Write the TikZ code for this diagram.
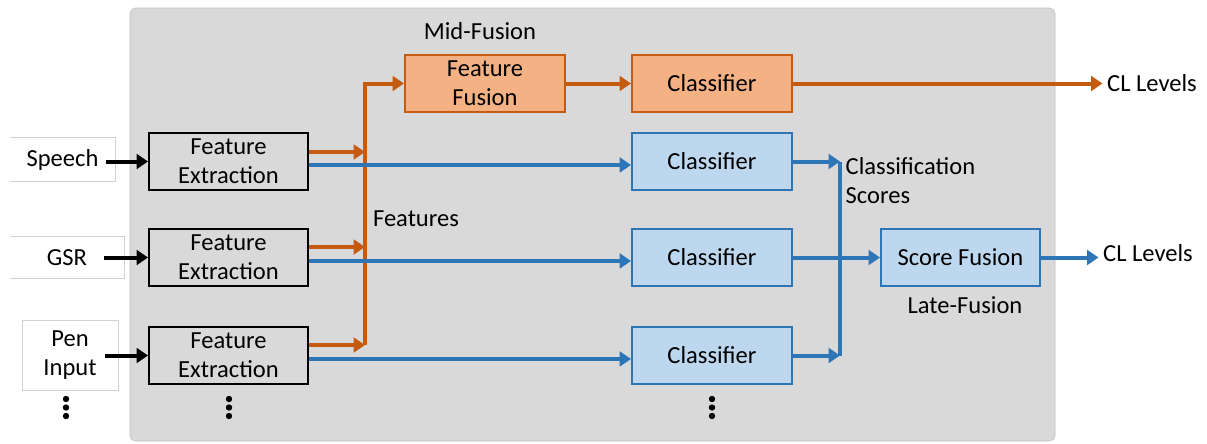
\documentclass[tikz,border=0pt]{standalone}
\usepackage{fontspec}
\setmainfont{Carlito}
\usetikzlibrary{arrows.meta}

\definecolor{fusionorange}{HTML}{C55A11}
\definecolor{fusionfill}{HTML}{F4B183}
\definecolor{scoreblue}{HTML}{2E75B6}
\definecolor{scorefill}{HTML}{BDD7EE}
\definecolor{panelgray}{HTML}{D9D9D9}

\tikzstyle{inbox} = [fill=white, align=center, inner sep=0pt]
\tikzstyle{inedge} = [draw=black!18, line width=0.75pt]
\tikzstyle{febox} = [draw=black, line width=1.5pt, minimum width=119.25pt, minimum height=42.75pt, align=center, inner sep=0pt]
\tikzstyle{midbox} = [febox, draw=fusionorange, fill=fusionfill, minimum width=120pt]
\tikzstyle{latebox} = [febox, draw=scoreblue, fill=scorefill, minimum width=120pt]
\tikzstyle{arr} = [line width=3pt, -{Triangle[length=8.5pt,width=11pt]}]
\tikzstyle{plain} = [line width=3pt]
\tikzstyle{dot} = [fill=black]

\begin{document}
\begin{tikzpicture}[x=0.75pt, y=-0.75pt, font=\fontsize{18.4}{21.8}\selectfont]
\useasboundingbox (0,0) rectangle (1207,443);
%panel
\draw[draw=black!25, fill=panelgray, rounded corners=4pt] (130,8) rectangle (1055,441);
%begin inputs
\node[inbox, minimum width=78.75pt, minimum height=32.25pt] (speech) at (62.5,159.5) {Speech};
\node[inbox, minimum width=85.5pt, minimum height=30.75pt] (gsr) at (67,257.5) {GSR};
\node[inbox, minimum width=72pt, minimum height=52.5pt, draw=black!18, line width=0.75pt] (pen) at (70,355) {Pen\\Input};
\draw[inedge] (speech.north west) -- (speech.north east) -- (speech.south east) -- (speech.south west);
\draw[inedge] (gsr.north west) -- (gsr.north east) -- (gsr.south east) -- (gsr.south west);
%end inputs
%begin feature extraction
\node[febox] (fe1) at (228.5,161.5) {Feature\\Extraction};
\node[febox] (fe2) at (228.5,257.5) {Feature\\Extraction};
\node[febox] (fe3) at (228.5,355.5) {Feature\\Extraction};
%end feature extraction
%begin mid-fusion
\node[midbox] (ff) at (485,83.5) {Feature\\Fusion};
\node[midbox] (oc) at (712,83.5) {Classifier};
\node (mid) at (480,31) {Mid-Fusion};
\node (cl1) at (1152,83.5) {CL Levels};
%end mid-fusion
%begin late-fusion
\node[latebox] (c1) at (712,161.5) {Classifier};
\node[latebox] (c2) at (712,257.5) {Classifier};
\node[latebox] (c3) at (712,355.5) {Classifier};
\node[latebox, minimum width=119.25pt] (sf) at (960.5,257.5) {Score Fusion};
\node (late) at (965,305) {Late-Fusion};
\node (cl2) at (1148,253) {CL Levels};
\node[anchor=west, align=left] (scores) at (841,181) {Classification\\Scores};
%end late-fusion
\node (feat) at (416,219) {Features};
%joints
\coordinate (o1) at (365,152);
\coordinate (o2) at (365,247);
\coordinate (o3) at (365,345);
\coordinate (otop) at (365,83.5);
\coordinate (s1) at (840,161.5);
\coordinate (s3) at (840,355.5);
%begin input arrows
\draw[arr] ([xshift=-6.75pt]speech.east |- fe1.west) -- (fe1.west);
\draw[arr] ([xshift=-15pt]gsr.east |- fe2.west) -- (fe2.west);
\draw[arr] ([xshift=-10.5pt]pen.east |- fe3.west) -- (fe3.west);
%end input arrows
%begin orange
\draw[arr, fusionorange] (fe1.east |- o1) -- (o1);
\draw[arr, fusionorange] (fe2.east |- o2) -- (o2);
\draw[arr, fusionorange] (fe3.east |- o3) -- (o3);
\draw[arr, fusionorange] (o3) -- (otop) -- (ff.west);
\draw[arr, fusionorange] (ff.east) -- (oc.west);
\draw[arr, fusionorange] (oc.east) -- (cl1.west);
%end orange
%begin blue
\draw[arr, scoreblue] ([yshift=-2.6pt]fe1.east) -- ([yshift=-2.6pt]c1.west);
\draw[arr, scoreblue] ([yshift=-2.6pt]fe2.east) -- ([yshift=-2.6pt]c2.west);
\draw[arr, scoreblue] ([yshift=-2.6pt]fe3.east) -- ([yshift=-2.6pt]c3.west);
\draw[arr, scoreblue] (c1.east) -- (s1);
\draw[arr, scoreblue] (c3.east) -- (s3);
\draw[plain, scoreblue] (s1) -- (s3);
\draw[arr, scoreblue] (c2.east) -- (sf.west);
\draw[arr, scoreblue] (sf.east) -- (sf.east -| cl2.west);
%end blue
%dots
\foreach \x in {66,229,712} {
  \foreach \y in {399,407.5,416} {
    \fill[dot] (\x,\y) circle (2.4pt);
  }
}
\end{tikzpicture}
\end{document}
